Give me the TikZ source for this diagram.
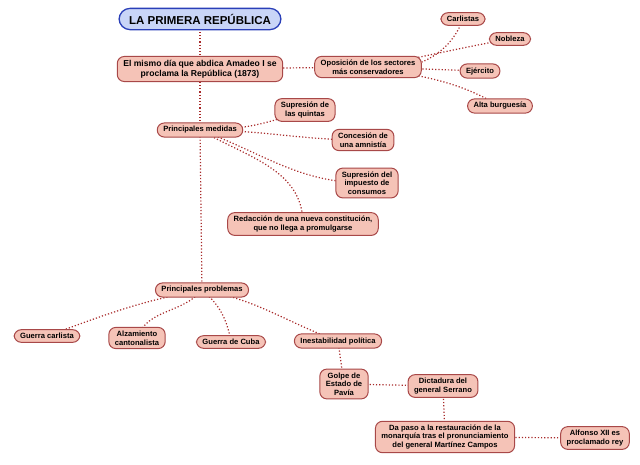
\documentclass[tikz,border=0pt]{standalone}
\usepackage{fontspec}
\setmainfont{Liberation Sans}
\usetikzlibrary{backgrounds}
\definecolor{nfill}{HTML}{F5C3B7}
\definecolor{nline}{HTML}{A84848}
\definecolor{tfill}{HTML}{C9D5F7}
\definecolor{tline}{HTML}{2A3FB8}
\definecolor{cline}{HTML}{A82A2A}
\begin{document}
\begin{tikzpicture}[x=1pt,y=-1pt,
  box/.style={draw=nline,fill=nfill,line width=1pt,rounded corners=7pt,align=center,font=\bfseries\fontsize{7.6}{8.6}\selectfont,inner xsep=6pt,inner ysep=3.5pt},
  titlebox/.style={draw=tline,fill=tfill,line width=1.3pt,rounded corners=11pt,font=\bfseries\fontsize{11.5}{13}\selectfont,inner xsep=10pt,inner ysep=5.5pt},
  link/.style={draw=cline,line width=1.2pt,dotted}]
\useasboundingbox (0,0) rectangle (640,464);
\node[titlebox] (t) at (200,19) {LA PRIMERA REPÚBLICA};
\node[box,font=\bfseries\fontsize{8.6}{10}\selectfont] (m) at (200,69) {El mismo día que abdica Amadeo I se\\proclama la República (1873)};
\node[box] (o) at (368,67) {Oposición de los sectores\\más conservadores};
\node[box] (c1) at (463,19) {Carlistas};
\node[box] (c2) at (510,39) {Nobleza};
\node[box] (c3) at (480,71) {Ejército};
\node[box] (c4) at (500,106) {Alta burguesía};
\node[box] (pm) at (200,130) {Principales medidas};
\node[box] (s1) at (305,110) {Supresión de\\las quintas};
\node[box] (s2) at (363,140) {Concesión de\\una amnistía};
\node[box] (s3) at (367,183) {Supresión del\\impuesto de\\consumos};
\node[box] (s4) at (303,224) {Redacción de una nueva constitución,\\que no llega a promulgarse};
\node[box] (pp) at (202,290) {Principales problemas};
\node[box] (p1) at (47,336) {Guerra carlista};
\node[box] (p2) at (137,338) {Alzamiento\\cantonalista};
\node[box] (p3) at (231,342) {Guerra de Cuba};
\node[box] (p4) at (338,341) {Inestabilidad política};
\node[box] (g) at (344,384) {Golpe de\\Estado de\\Pavía};
\node[box] (d) at (443,386) {Dictadura del\\general Serrano};
\node[box] (r) at (445,437) {Da paso a la restauración de la\\monarquía tras el pronunciamiento\\del general Martínez Campos};
\node[box] (a) at (595,438) {Alfonso XII es\\proclamado rey};
\begin{scope}[on background layer]
\draw[link] (t.center) -- (m.center);
\draw[link] (m.center) -- (o.center);
\draw[link] (o.center) to[out=-10,in=-110] (c1.center);
\draw[link] (o.center) to[out=10,in=190] (c2.center);
\draw[link] (o.center) -- (c3.center);
\draw[link] (o.center) to[out=-10,in=150] (c4.center);
\draw[link] (m.center) -- (pm.center);
\draw[link] (pm.center) to[out=0,in=200] (s1.center);
\draw[link] (pm.center) to[out=0,in=180] (s2.center);
\draw[link] (pm.center) to[out=-20,in=180] (s3.center);
\draw[link] (pm.center) to[out=-30,in=90] (s4.center);
\draw[link] (pm.center) -- (pp.center);
\draw[link] (pp.center) to[out=190,in=20] (p1.center);
\draw[link] (pp.center) to[out=230,in=70] (p2.center);
\draw[link] (pp.center) to[out=-40,in=100] (p3.center);
\draw[link] (pp.center) to[out=-10,in=160] (p4.center);
\draw[link] (p4.center) -- (g.center);
\draw[link] (g.center) -- (d.center);
\draw[link] (d.center) -- (r.center);
\draw[link] (r.center) -- (a.center);
\end{scope}
\end{tikzpicture}
\end{document}
